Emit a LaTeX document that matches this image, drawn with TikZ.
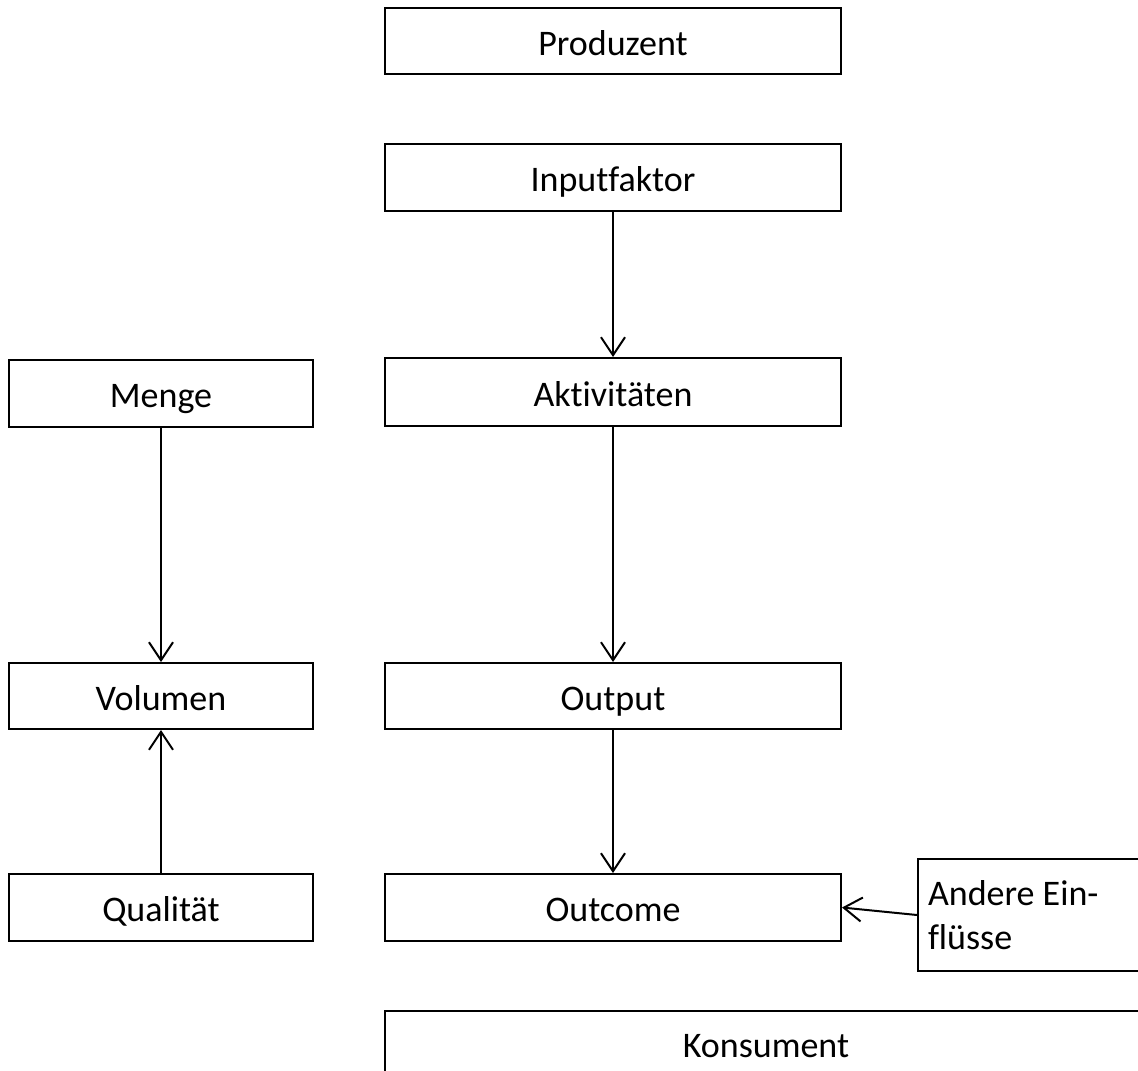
\documentclass[tikz,border=0pt]{standalone}
\usepackage{fontspec}
\setmainfont[Ligatures=NoCommon]{Carlito}
\usetikzlibrary{arrows.meta}
\begin{document}
\begin{tikzpicture}[x=1pt,y=-1pt,
  box/.style={draw=black,line width=2pt,rectangle,inner sep=0pt,
    font=\fontsize{36}{44}\selectfont},
  one/.style={text height=28pt,text depth=0pt},
  conn/.style={line width=2pt,-{Straight Barb[length=18pt,width=24pt,line width=2pt]}}]
\useasboundingbox (0,0) rectangle (1138,1071);
\clip (0,0) rectangle (1138,1071);
\node[box,one,minimum width=456pt,minimum height=66pt] (prod) at (613,41) {Produzent};
\node[box,one,minimum width=456pt,minimum height=67pt] (input) at (613,177.5) {Inputfaktor};
\node[box,one,minimum width=456pt,minimum height=68pt] (akt) at (613,392) {Aktivitäten};
\node[box,one,minimum width=304pt,minimum height=67pt] (menge) at (161,393.5) {Menge};
\node[box,one,minimum width=304pt,minimum height=66pt] (vol) at (161,696) {Volumen};
\node[box,one,minimum width=456pt,minimum height=66pt] (out) at (613,696) {Output};
\node[box,one,minimum width=304pt,minimum height=67pt] (qual) at (161,907.5) {Qualität};
\node[box,one,minimum width=456pt,minimum height=67pt] (outc) at (613,907.5) {Outcome};
\node[box,minimum width=232pt,minimum height=112pt,text width=212pt,align=flush left,inner xsep=10pt] (andere) at (1034,915) {Andere Ein-\\flüsse};
\node[box,one,minimum width=762pt,minimum height=64pt] (kons) at (766,1043) {Konsument};
\draw[conn] (input) -- (akt);
\draw[conn] (akt) -- (out);
\draw[conn] (out) -- (outc);
\draw[conn] (menge) -- (vol);
\draw[conn] (qual) -- (vol);
\draw[conn] (andere.west) -- (outc.east);
\end{tikzpicture}
\end{document}
